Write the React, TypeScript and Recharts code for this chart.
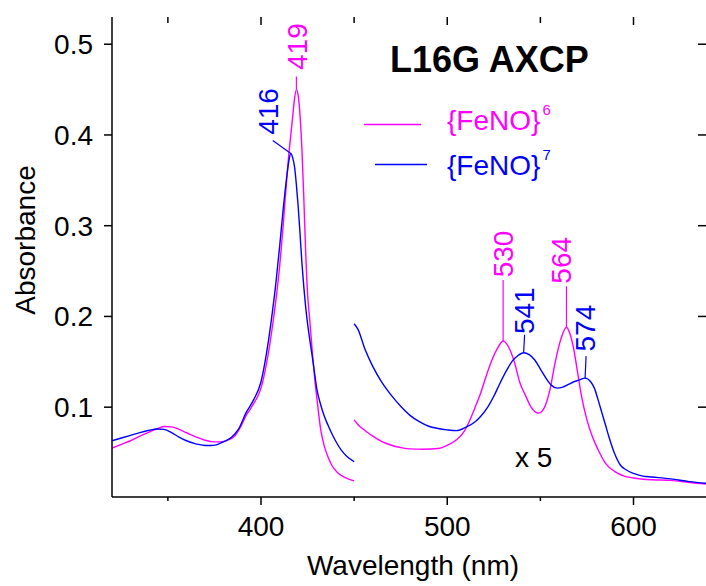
import React from "react";
import { LineChart, Line, XAxis, YAxis, ReferenceDot, ReferenceLine } from "recharts";

const FONT = "'Liberation Sans', Arial, Helvetica, sans-serif";
const MAGENTA = "#ff00ff";
const BLUE = "#0000ff";

// Soret region, {FeNO}6
const soretNm6 = [320, 325, 330, 335, 340, 345, 348, 352, 356, 360, 365, 370, 375, 378, 382, 386, 390, 392, 394, 396, 398, 400, 402, 404, 406, 408, 410, 411, 412, 413, 414, 415, 416, 417, 418, 419, 420, 421, 422, 423, 424, 425, 426, 427, 428, 429, 430, 432, 434, 436, 438, 441, 445, 450];
const soretAbs6 = [0.055, 0.059, 0.063, 0.068, 0.0725, 0.077, 0.0787, 0.0783, 0.0755, 0.0718, 0.0673, 0.0635, 0.0617, 0.0618, 0.0635, 0.0685, 0.082, 0.091, 0.097, 0.104, 0.111, 0.121, 0.138, 0.16, 0.187, 0.218, 0.255, 0.278, 0.303, 0.33, 0.356, 0.38, 0.4, 0.42, 0.44, 0.45, 0.443, 0.42, 0.383, 0.33, 0.27, 0.225, 0.2, 0.175, 0.15, 0.128, 0.11, 0.076, 0.057, 0.045, 0.036, 0.028, 0.0225, 0.0187];

// Soret region, {FeNO}7
const soretNm7 = [320, 325, 330, 335, 340, 344, 348, 352, 356, 360, 365, 370, 373, 376, 380, 384, 388, 392, 396, 400, 402, 404, 406, 408, 410, 412, 414, 415, 416, 417, 418, 419, 420, 421, 422, 423, 424, 425, 426, 427, 428, 429, 430, 432, 434, 436, 438, 440, 443, 446, 450];
const soretAbs7 = [0.063, 0.066, 0.069, 0.072, 0.0745, 0.076, 0.0755, 0.072, 0.067, 0.063, 0.0595, 0.0578, 0.0577, 0.0585, 0.062, 0.0665, 0.076, 0.094, 0.108, 0.128, 0.148, 0.173, 0.203, 0.237, 0.277, 0.32, 0.357, 0.372, 0.3796, 0.375, 0.365, 0.345, 0.32, 0.29, 0.258, 0.232, 0.21, 0.192, 0.177, 0.163, 0.149, 0.134, 0.12, 0.103, 0.09, 0.08, 0.071, 0.063, 0.053, 0.046, 0.04];

// Q-band region (x 5), {FeNO}6
const qNm6 = [450, 452, 456, 460, 465, 470, 475, 480, 487, 495, 500, 505, 509, 512, 515, 518, 521, 524, 527, 530, 533, 536, 539, 542, 545, 549, 552, 555, 558, 561, 564, 566, 568, 570, 572, 575, 578, 581, 585, 590, 595, 600, 610, 620, 630, 640];
const qAbs6 = [0.086, 0.081, 0.074, 0.068, 0.062, 0.058, 0.0555, 0.054, 0.0537, 0.0545, 0.058, 0.064, 0.073, 0.085, 0.1, 0.116, 0.135, 0.152, 0.165, 0.173, 0.166, 0.15, 0.127, 0.113, 0.1, 0.0934, 0.099, 0.118, 0.15, 0.175, 0.188, 0.18, 0.163, 0.138, 0.113, 0.086, 0.067, 0.053, 0.038, 0.029, 0.024, 0.022, 0.02, 0.0193, 0.017, 0.0152];

// Q-band region (x 5), {FeNO}7
const qNm7 = [450, 452, 456, 460, 465, 470, 475, 480, 485, 490, 495, 500, 505, 510, 515, 518, 522, 525, 528, 532, 535, 538, 541, 544, 547, 550, 553, 556, 559, 562, 565, 568, 571, 574, 577, 579, 581, 583, 585, 587, 590, 593, 596, 600, 605, 610, 620, 630, 640];
const qAbs7 = [0.192, 0.186, 0.163, 0.145, 0.127, 0.113, 0.101, 0.091, 0.084, 0.079, 0.0765, 0.075, 0.0742, 0.078, 0.084, 0.09, 0.101, 0.112, 0.125, 0.141, 0.151, 0.157, 0.16, 0.158, 0.152, 0.142, 0.132, 0.124, 0.121, 0.122, 0.125, 0.128, 0.13, 0.132, 0.128, 0.121, 0.108, 0.094, 0.08, 0.066, 0.048, 0.036, 0.031, 0.027, 0.024, 0.023, 0.021, 0.018, 0.016];

const xTicks = [350, 400, 450, 500, 550, 600];
const xLabels = [400, 500, 600];
const yTicks = [0.1, 0.2, 0.3, 0.4, 0.5];

const peaks6 = [419, 530, 564];
const peaks7 = [416, 541, 574];

const toPoints = (nm: number[], abs: number[]) => nm.map((x, i) => ({ x, y: abs[i] }));

const soret6 = toPoints(soretNm6, soretAbs6);
const soret7 = toPoints(soretNm7, soretAbs7);
const q6 = toPoints(qNm6, qAbs6);
const q7 = toPoints(qNm7, qAbs7);

const X_DOMAIN: [number, number] = [320, 640];
const Y_DOMAIN: [number, number] = [0.001, 0.53];

// plot box
const W = 706;
const H = 586;
const M = { top: 17, right: -2, bottom: 0, left: 0 };
const Y_AXIS_W = 112;
const X_AXIS_H = 89;
const PLOT_W = W - M.left - M.right - Y_AXIS_W;
const PLOT_H = H - M.top - M.bottom - X_AXIS_H;
// pixel lengths -> data units, for the inward frame ticks
const pxY = (px: number) => (px * (Y_DOMAIN[1] - Y_DOMAIN[0])) / PLOT_H;
const pxX = (px: number) => (px * (X_DOMAIN[1] - X_DOMAIN[0])) / PLOT_W;

function peakValue(nm: number, seg: { x: number; y: number }[][]) {
  for (const s of seg) {
    const p = s.find((d) => d.x === nm);
    if (p) return p.y;
  }
  return 0;
}

// label placement around each peak (pixels)
const labelPos: Record<number, { tx: number; ty: number; lx: number; ly: number }> = {
  419: { tx: 1, ty: -43, lx: 0, ly: -13 },
  416: { tx: -23, ty: -42, lx: -18, ly: -13 },
  530: { tx: 0, ty: -87, lx: 0, ly: -61 },
  541: { tx: 0, ty: -42, lx: 1, ly: -18 },
  564: { tx: -5, ty: -67, lx: 0, ly: -41 },
  574: { tx: 0, ty: -50, lx: 1, ly: -22 },
};

const peakLabel = (nm: number, color: string) => (props: any) => {
  const vb = props.viewBox || {};
  const cx = vb.x + (vb.width || 0) / 2;
  const cy = vb.y + (vb.height || 0) / 2;
  const p = labelPos[nm];
  const tx = cx + p.tx;
  const ty = cy + p.ty;
  return (
    <g>
      <line x1={cx} y1={cy} x2={cx + p.lx} y2={cy + p.ly} stroke={color} strokeWidth={1.2} />
      <text x={tx} y={ty} dy="0.355em" textAnchor="middle" transform={`rotate(-90 ${tx} ${ty})`} fill={color} fontSize={28} fontFamily={FONT}>
        {nm}
      </text>
    </g>
  );
};

const BottomTick = (p: any) => {
  const v = p.payload.value;
  const major = xLabels.includes(v);
  return (
    <g>
      <line x1={p.x} x2={p.x} y1={p.y} y2={p.y + (major ? 8 : 4)} stroke="#000" strokeWidth={1.5} />
      {major && (
        <text x={p.x} y={p.y + 39} textAnchor="middle" fontSize={28} fontFamily={FONT} fill="#000">
          {v}
        </text>
      )}
    </g>
  );
};

export default function App() {
  const segs6 = [soret6, q6];
  const segs7 = [soret7, q7];
  return (
    <div style={{ position: "relative", width: W, height: H, background: "#fff", fontFamily: FONT }}>
      <style>{"body{margin:0}"}</style>
      <LineChart width={W} height={H} margin={M}>
        <XAxis
          dataKey="x"
          type="number"
          domain={X_DOMAIN}
          ticks={xTicks}
          interval={0}
          allowDataOverflow
          height={X_AXIS_H}
          tickSize={0}
          tickMargin={0}
          tickLine={false}
          tick={BottomTick}
          axisLine={{ stroke: "#000", strokeWidth: 1.5 }}
        />
        <XAxis
          xAxisId="top"
          orientation="top"
          dataKey="x"
          type="number"
          domain={X_DOMAIN}
          allowDataOverflow
          height={0}
          tick={false}
          tickLine={false}
          axisLine={{ stroke: "#000", strokeWidth: 1.5 }}
        />
        <YAxis
          type="number"
          domain={Y_DOMAIN}
          ticks={yTicks}
          interval={0}
          allowDataOverflow
          width={Y_AXIS_W}
          tickSize={8}
          tickMargin={11}
          tickLine={{ stroke: "#000", strokeWidth: 1.5 }}
          axisLine={{ stroke: "#000", strokeWidth: 1.5 }}
          tick={{ fill: "#000", fontSize: 28, fontFamily: FONT }}
          tickFormatter={(v: number) => v.toFixed(1)}
        />
        {/* inward ticks on the top and right frame */}
        {xTicks.map((t) => (
          <ReferenceLine
            key={`tt${t}`}
            segment={[
              { x: t, y: Y_DOMAIN[1] },
              { x: t, y: Y_DOMAIN[1] - pxY(xLabels.includes(t) ? 8 : 6) },
            ]}
            stroke="#000"
            strokeWidth={1.5}
          />
        ))}
        {yTicks.map((t) => (
          <ReferenceLine
            key={`rt${t}`}
            segment={[
              { x: X_DOMAIN[1], y: t },
              { x: X_DOMAIN[1] - pxX(10), y: t },
            ]}
            stroke="#000"
            strokeWidth={1.5}
          />
        ))}
        <Line data={soret6} dataKey="y" type="monotone" stroke={MAGENTA} strokeWidth={1.4} dot={false} activeDot={false} isAnimationActive={false} />
        <Line data={soret7} dataKey="y" type="monotone" stroke={BLUE} strokeWidth={1.4} dot={false} activeDot={false} isAnimationActive={false} />
        <Line data={q6} dataKey="y" type="monotone" stroke={MAGENTA} strokeWidth={1.4} dot={false} activeDot={false} isAnimationActive={false} />
        <Line data={q7} dataKey="y" type="monotone" stroke={BLUE} strokeWidth={1.4} dot={false} activeDot={false} isAnimationActive={false} />
        {peaks6.map((nm) => (
          <ReferenceDot key={`m${nm}`} x={nm} y={peakValue(nm, segs6)} r={0} fill="none" stroke="none" label={{ content: peakLabel(nm, MAGENTA) }} />
        ))}
        {peaks7.map((nm) => (
          <ReferenceDot key={`b${nm}`} x={nm} y={peakValue(nm, segs7)} r={0} fill="none" stroke="none" label={{ content: peakLabel(nm, BLUE) }} />
        ))}
      </LineChart>
      <svg width={W} height={H} style={{ position: "absolute", left: 0, top: 0, pointerEvents: "none" }}>
        <text x={390} y={72} fontSize={36} fontWeight="bold" fontFamily={FONT} fill="#000">
          L16G AXCP
        </text>
        <line x1={364} x2={421} y1={124.5} y2={124.5} stroke={MAGENTA} strokeWidth={1.5} />
        <text x={447} y={130} fontSize={28} fontFamily={FONT} fill={MAGENTA}>
          {"{FeNO}"}
          <tspan fontSize={15} dx={2} dy={-15}>6</tspan>
        </text>
        <line x1={375} x2={427} y1={164.5} y2={164.5} stroke={BLUE} strokeWidth={1.5} />
        <text x={447} y={175} fontSize={28} fontFamily={FONT} fill={BLUE}>
          {"{FeNO}"}
          <tspan fontSize={15} dx={2} dy={-15}>7</tspan>
        </text>
        <text x={515} y={467} fontSize={28} fontFamily={FONT} fill="#000">
          x 5
        </text>
        <text x={35} y={240} fontSize={28} fontFamily={FONT} fill="#000" textAnchor="middle" transform="rotate(-90 35 240)">
          Absorbance
        </text>
        <text x={413} y={575} fontSize={28} fontFamily={FONT} fill="#000" textAnchor="middle">
          Wavelength (nm)
        </text>
      </svg>
    </div>
  );
}
